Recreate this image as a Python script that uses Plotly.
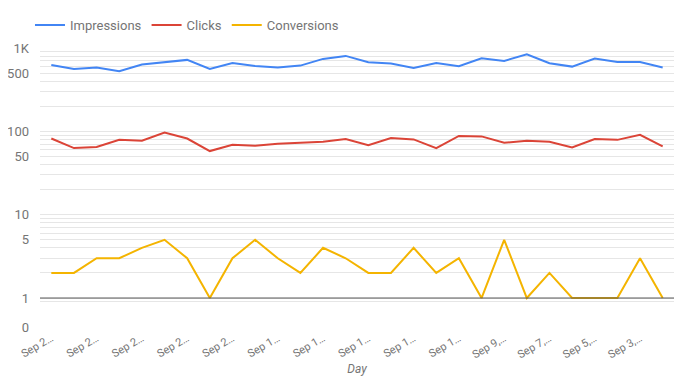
import plotly.graph_objects as go
import math

days = ["Sep 29", "Sep 28", "Sep 27", "Sep 26", "Sep 25", "Sep 24", "Sep 23",
        "Sep 22", "Sep 21", "Sep 20", "Sep 19", "Sep 18", "Sep 17", "Sep 16",
        "Sep 15", "Sep 14", "Sep 13", "Sep 12", "Sep 11", "Sep 10", "Sep 9",
        "Sep 8", "Sep 7", "Sep 6", "Sep 5", "Sep 4", "Sep 3", "Sep 2"]

impressions = [627, 561, 582, 527, 632, 668, 720, 561, 662, 610, 582, 615, 740, 804,
               676, 650, 577, 662, 604, 754, 700, 842, 657, 598, 746, 681, 681, 582]
clicks = [82, 63, 65, 79, 77, 97, 82, 58, 69, 67, 71, 73, 75, 81,
          68, 83, 80, 63, 88, 87, 73, 77, 75, 64, 81, 79, 91, 66]
conversions = [2, 2, 3, 3, 4, 5, 3, 1, 3, 5, 3, 2, 4, 3,
               2, 2, 4, 2, 3, 1, 5, 1, 2, 1, 1, 1, 3, 1]

x_tick_labels = ["Sep 2…", "Sep 2…", "Sep 2…", "Sep 2…", "Sep 2…",
                 "Sep 1…", "Sep 1…", "Sep 1…", "Sep 1…", "Sep 1…",
                 "Sep 9,…", "Sep 7,…", "Sep 5,…", "Sep 3,…"]

y_label_vals = [0.449, 1, 5, 10, 50, 100, 500, 1000]
y_label_text = ["0", "1", "5", "10", "50", "100", "500", "1K"]

FONT = "Roboto, Arial, sans-serif"
GRAY = "#757575"

fig = go.Figure()
series = [("Impressions", impressions, "#4285F4"),
          ("Clicks", clicks, "#DB4437"),
          ("Conversions", conversions, "#F4B400")]
for name, vals, col in series:
    fig.add_trace(go.Scatter(x=days, y=vals, name=name, mode="lines",
                             line=dict(color=col, width=2)))

# gridlines at 1..9 x each decade (labels only on selected values)
grid_vals = [0.449, 0.9]
for dec in [1, 10, 100]:
    for m in range(1, 10):
        grid_vals.append(m * dec)
grid_vals.append(1000)
grid_text = []
for v in grid_vals:
    if v in y_label_vals:
        grid_text.append(y_label_text[y_label_vals.index(v)])
    else:
        grid_text.append("")

fig.add_shape(type="line", xref="paper", x0=0, x1=1, yref="y", y0=1, y1=1,
              line=dict(color="#555555", width=1), layer="above")

fig.update_layout(
    width=698, height=390,
    margin=dict(l=32, r=32, t=40, b=71, autoexpand=False),
    paper_bgcolor="white", plot_bgcolor="white",
    font=dict(family=FONT, color=GRAY, size=13),
    showlegend=True,
    legend=dict(orientation="h", xref="container", yref="container",
                x=0.0315, xanchor="left", y=0.956, yanchor="middle",
                font=dict(size=13, color=GRAY), itemwidth=30, tracegroupgap=0),
    xaxis=dict(type="category", tickmode="array", range=[-0.5, 27.5],
               tickvals=days[0::2], ticktext=x_tick_labels,
               tickangle=-30, tickfont=dict(size=11, color=GRAY),
               showgrid=False, showline=False, zeroline=False, ticks="",
               ticklabelstandoff=2, automargin=False,
               title=dict(text="Day", font=dict(size=12, color=GRAY, style="italic"),
                          standoff=4)),
    yaxis=dict(type="log", range=[math.log10(0.449), 3.0],
               tickmode="array", tickvals=grid_vals, ticktext=grid_text,
               gridcolor="#e6e6e6", gridwidth=1, showline=False, zeroline=False,
               ticks="", ticklabelstandoff=10, automargin=False,
               tickfont=dict(size=13, color=GRAY)),
)

fig.write_html("out.html")
